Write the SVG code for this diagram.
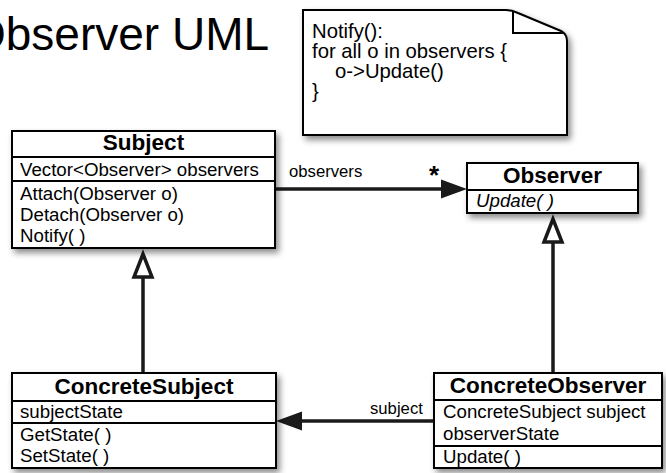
<svg xmlns="http://www.w3.org/2000/svg" width="666" height="473" viewBox="0 0 666 473">
  <defs>
    <filter id="shadow" x="-10%" y="-10%" width="130%" height="140%">
      <feDropShadow dx="3" dy="4" stdDeviation="3" flood-color="#000" flood-opacity="0.45"/>
    </filter>
  </defs>
  <style>
    text { font-family: "Liberation Sans", Arial, Helvetica, sans-serif; fill: #000; }
    .box { fill: #fff; stroke: #000; stroke-width: 2; }
    .sep { stroke: #000; stroke-width: 2; fill: none; }
    .title { font-size: 22.5px; font-weight: bold; text-anchor: middle; }
    .body { font-size: 18.7px; }
    .ital { font-style: italic; }
    .label { font-size: 16.7px; }
    .note { font-size: 20.3px; }
    .edge { stroke: #1a1a1a; stroke-width: 3.5; fill: none; }
    .head { fill: #1a1a1a; stroke: none; }
    .hollow { fill: #fff; stroke: #1a1a1a; stroke-width: 3.5; stroke-linejoin: miter; }
  </style>

  <rect width="666" height="473" fill="#fff"/>

  <!-- heading, running off the left edge of the page -->
  <text x="-30" y="50" font-size="46">Observer UML</text>

  <!-- note with folded corner -->
  <g id="note">
    <path class="box" filter="url(#shadow)" d="M303,10 H506 Q512,10 518,13 L561,31 Q567,34 567,41 V135 H303 Z"/>
    <path class="sep" stroke-width="1.8" d="M513,11 V33 H563"/>
    <text class="note" x="312" y="38">Notify():</text>
    <text class="note" x="312" y="58">for all o in observers {</text>
    <text class="note" x="335" y="78">o-&gt;Update()</text>
    <text class="note" x="312" y="98">}</text>
  </g>

  <!-- connectors -->
  <g id="connectors">
    <!-- observers association -->
    <line class="edge" x1="276" y1="189" x2="443" y2="189"/>
    <polygon class="head" points="441,179.5 467,189 441,198.5"/>
    <text class="label" x="289" y="177">observers</text>
    <text x="434" y="184" font-size="26" font-weight="bold" text-anchor="middle">*</text>

    <!-- subject association -->
    <line class="edge" x1="434" y1="421" x2="300" y2="421"/>
    <polygon class="head" points="302,411.5 276,421 302,430.5"/>
    <text class="label" x="370" y="414">subject</text>

    <!-- ConcreteSubject generalizes Subject -->
    <line class="edge" x1="143" y1="278" x2="143" y2="373"/>
    <polygon class="hollow" points="143,254 134,277 152,277"/>

    <!-- ConcreteObserver generalizes Observer -->
    <line class="edge" x1="553" y1="243" x2="553" y2="373"/>
    <polygon class="hollow" points="553,219 544,242 562,242"/>
  </g>

  <!-- Subject -->
  <g id="subject">
    <rect class="box" filter="url(#shadow)" x="12" y="131" width="263" height="117"/>
    <line class="sep" x1="12" y1="157" x2="275" y2="157"/>
    <line class="sep" x1="12" y1="181" x2="275" y2="181"/>
    <text class="title" x="143.5" y="150">Subject</text>
    <text class="body" x="20" y="176">Vector&lt;Observer&gt; observers</text>
    <text class="body" x="20" y="200">Attach(Observer o)</text>
    <text class="body" x="20" y="221">Detach(Observer o)</text>
    <text class="body" x="20" y="242">Notify( )</text>
  </g>

  <!-- Observer -->
  <g id="observer">
    <rect class="box" filter="url(#shadow)" x="467" y="163" width="171" height="50"/>
    <line class="sep" x1="467" y1="190" x2="638" y2="190"/>
    <text class="title" x="552.5" y="183">Observer</text>
    <text class="body ital" x="476" y="207">Update( )</text>
  </g>

  <!-- ConcreteSubject -->
  <g id="concrete-subject">
    <rect class="box" filter="url(#shadow)" x="12" y="373" width="264" height="95"/>
    <line class="sep" x1="12" y1="401" x2="276" y2="401"/>
    <line class="sep" x1="12" y1="423" x2="276" y2="423"/>
    <text class="title" x="144" y="394">ConcreteSubject</text>
    <text class="body" x="20" y="418">subjectState</text>
    <text class="body" x="20" y="441">GetState( )</text>
    <text class="body" x="20" y="462">SetState( )</text>
  </g>

  <!-- ConcreteObserver -->
  <g id="concrete-observer">
    <rect class="box" filter="url(#shadow)" x="434" y="373" width="228" height="95"/>
    <line class="sep" x1="434" y1="400" x2="662" y2="400"/>
    <line class="sep" x1="434" y1="446" x2="662" y2="446"/>
    <text class="title" x="548" y="393">ConcreteObserver</text>
    <text class="body" x="443" y="418">ConcreteSubject subject</text>
    <text class="body" x="443" y="440">observerState</text>
    <text class="body" x="443" y="463">Update( )</text>
  </g>
</svg>
